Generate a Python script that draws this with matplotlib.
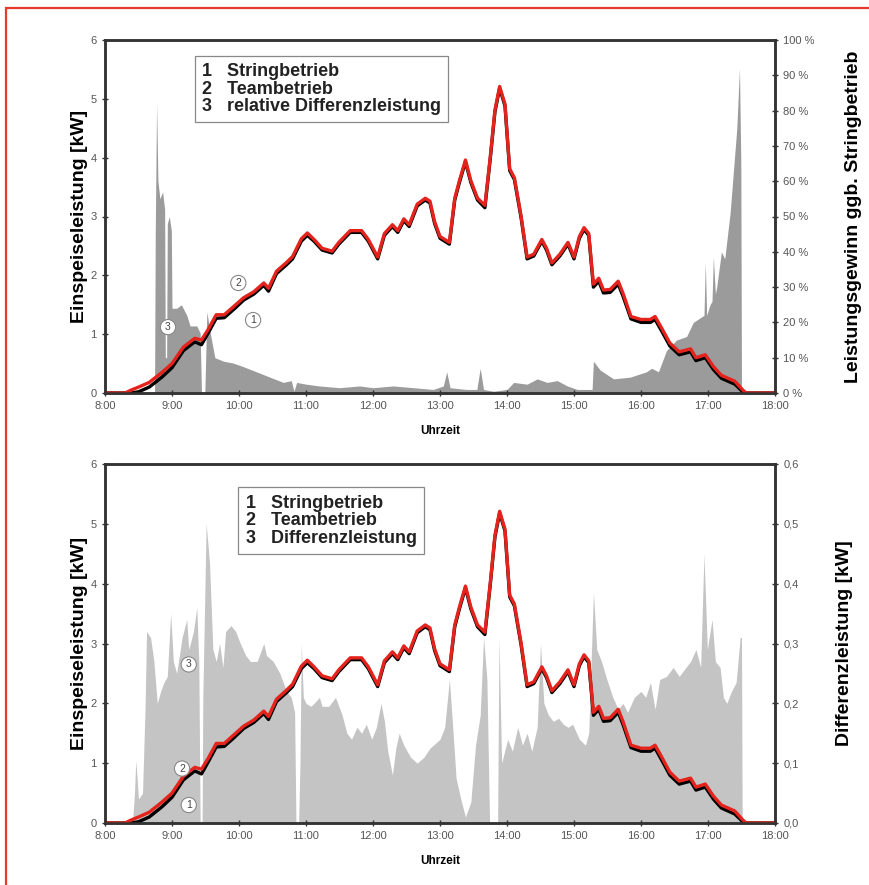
import matplotlib
matplotlib.use('Agg')
import matplotlib.pyplot as plt
from matplotlib.patches import Rectangle

# time of day in hours
t_power = [8.00, 8.30, 8.39, 8.50, 8.66, 8.85, 9.00, 9.17, 9.34, 9.44, 9.54, 9.66, 9.78, 9.93,
           10.07, 10.22, 10.37, 10.44, 10.56, 10.71, 10.80, 10.93, 11.02, 11.12, 11.24, 11.39,
           11.49, 11.66, 11.83, 11.93, 12.07, 12.17, 12.29, 12.37, 12.46, 12.54, 12.66, 12.78,
           12.85, 12.92, 13.00, 13.14, 13.22, 13.29, 13.38, 13.46, 13.56, 13.67, 13.75, 13.82,
           13.89, 13.97, 14.04, 14.11, 14.21, 14.30, 14.40, 14.52, 14.59, 14.67, 14.79, 14.91,
           15.00, 15.08, 15.15, 15.22, 15.29, 15.37, 15.44, 15.54, 15.66, 15.73, 15.85, 16.00,
           16.14, 16.21, 16.31, 16.43, 16.57, 16.74, 16.82, 16.96, 17.08, 17.20, 17.40, 17.52,
           17.57, 18.00]
p_string = [0.0, 0.0, 0.0, 0.02, 0.10, 0.27, 0.43, 0.72, 0.87, 0.82, 1.02, 1.27, 1.28, 1.43,
            1.58, 1.68, 1.83, 1.73, 2.03, 2.18, 2.28, 2.58, 2.68, 2.58, 2.43, 2.38,
            2.53, 2.73, 2.73, 2.58, 2.28, 2.68, 2.83, 2.73, 2.93, 2.83, 3.18, 3.28,
            3.23, 2.88, 2.63, 2.53, 3.28, 3.58, 3.93, 3.58, 3.28, 3.15, 3.98, 4.78,
            5.18, 4.88, 3.78, 3.63, 2.98, 2.28, 2.33, 2.58, 2.43, 2.18, 2.33, 2.53,
            2.28, 2.63, 2.78, 2.68, 1.80, 1.90, 1.70, 1.71, 1.85, 1.65, 1.26, 1.20,
            1.20, 1.25, 1.05, 0.80, 0.65, 0.70, 0.55, 0.60, 0.40, 0.25, 0.15, 0.02,
            0.0, 0.0]
p_team = [0.0, 0.0, 0.05, 0.10, 0.18, 0.35, 0.50, 0.78, 0.93, 0.90, 1.08, 1.33, 1.33, 1.48,
          1.62, 1.72, 1.87, 1.78, 2.07, 2.22, 2.32, 2.62, 2.72, 2.61, 2.46, 2.41,
          2.56, 2.76, 2.76, 2.61, 2.31, 2.71, 2.86, 2.76, 2.96, 2.86, 3.21, 3.31,
          3.26, 2.91, 2.66, 2.56, 3.31, 3.61, 3.96, 3.61, 3.31, 3.19, 4.01, 4.81,
          5.21, 4.91, 3.81, 3.66, 3.01, 2.31, 2.36, 2.61, 2.46, 2.21, 2.36, 2.56,
          2.31, 2.66, 2.81, 2.71, 1.85, 1.95, 1.75, 1.76, 1.90, 1.70, 1.30, 1.25,
          1.25, 1.30, 1.10, 0.85, 0.70, 0.75, 0.60, 0.65, 0.45, 0.30, 0.20, 0.05,
          0.0, 0.0]

# relative difference power (% gain vs. string operation)
t_rel = [8.74, 8.75, 8.77, 8.79, 8.82, 8.86, 8.89, 8.90, 8.92, 8.93, 8.96, 8.99, 9.00, 9.07,
         9.14, 9.22, 9.27, 9.37, 9.42, 9.44, 9.49, 9.52, 9.57, 9.64, 9.77, 9.91, 10.06, 10.26,
         10.46, 10.66, 10.78, 10.82, 10.86, 11.00, 11.20, 11.50, 11.80, 12.00, 12.30, 12.60,
         12.90, 13.05, 13.10, 13.15, 13.40, 13.55, 13.60, 13.65, 13.80, 14.00, 14.10, 14.30,
         14.45, 14.60, 14.75, 14.90, 15.05, 15.20, 15.27, 15.29, 15.39, 15.59, 15.84, 16.08,
         16.16, 16.26, 16.38, 16.53, 16.68, 16.78, 16.86, 16.94, 16.96, 16.98, 17.03, 17.06,
         17.08, 17.11, 17.13, 17.20, 17.25, 17.33, 17.38, 17.43, 17.47, 17.49, 17.50]
rel_gain = [0, 45, 82, 60, 55, 57, 52, 10, 10, 48, 50, 46, 24, 24,
            25, 22, 19, 19, 17, 0, 0, 23, 17, 10, 9, 8.5, 7.5, 6,
            4.5, 3, 3.5, 0.5, 3, 2.5, 2, 1.5, 2, 1.5, 2, 1.5,
            1, 2, 6, 1.5, 1, 1, 7, 1, 0.5, 1, 3, 2.5,
            4, 3, 3.5, 2, 1, 1, 1, 9, 6.5, 4, 4.5, 6,
            7, 6, 12, 15, 16, 20, 21, 22, 37, 22, 25, 26,
            38.5, 28, 30, 40, 38, 51, 63, 75, 92, 65, 0]

# absolute difference power in kW
t_diff = [8.41, 8.44, 8.46, 8.50, 8.56, 8.60, 8.62, 8.68, 8.73, 8.78, 8.83, 8.88, 8.93, 8.98,
          9.02, 9.07, 9.15, 9.22, 9.25, 9.32, 9.37, 9.40, 9.42, 9.45, 9.46, 9.51, 9.56, 9.61,
          9.66, 9.71, 9.76, 9.80, 9.88, 9.95, 10.02, 10.10, 10.17, 10.27, 10.37, 10.41, 10.51,
          10.61, 10.71, 10.78, 10.83, 10.85, 10.89, 10.91, 10.93, 10.96, 11.00, 11.07, 11.12,
          11.20, 11.24, 11.34, 11.44, 11.54, 11.61, 11.68, 11.76, 11.83, 11.90, 11.98, 12.05,
          12.12, 12.17, 12.22, 12.29, 12.34, 12.39, 12.46, 12.56, 12.66, 12.76, 12.85, 12.95,
          13.00, 13.07, 13.14, 13.19, 13.24, 13.31, 13.38, 13.46, 13.53, 13.60, 13.65, 13.70,
          13.74, 13.86, 13.88, 13.92, 14.01, 14.08, 14.16, 14.23, 14.30, 14.37, 14.45, 14.50,
          14.55, 14.62, 14.69, 14.77, 14.84, 14.91, 14.98, 15.08, 15.17, 15.22, 15.29, 15.34,
          15.41, 15.49, 15.58, 15.66, 15.73, 15.80, 15.90, 16.00, 16.07, 16.14, 16.21, 16.28,
          16.38, 16.48, 16.57, 16.67, 16.74, 16.82, 16.89, 16.94, 16.99, 17.06, 17.11, 17.18,
          17.23, 17.28, 17.35, 17.42, 17.48, 17.50, 17.51]
p_diff = [0.0, 0.05, 0.105, 0.04, 0.05, 0.20, 0.32, 0.31, 0.27, 0.20, 0.22, 0.235, 0.245, 0.35,
          0.27, 0.25, 0.31, 0.34, 0.29, 0.32, 0.36, 0.27, 0.0, 0.0, 0.21, 0.50, 0.435, 0.29,
          0.27, 0.30, 0.26, 0.32, 0.33, 0.32, 0.30, 0.28, 0.27, 0.27, 0.30, 0.28, 0.27,
          0.25, 0.22, 0.21, 0.185, 0.0, 0.0, 0.10, 0.30, 0.21, 0.20, 0.195, 0.20,
          0.21, 0.195, 0.195, 0.21, 0.18, 0.15, 0.14, 0.16, 0.15, 0.165, 0.14, 0.16,
          0.20, 0.17, 0.12, 0.08, 0.125, 0.15, 0.13, 0.11, 0.10, 0.11, 0.125, 0.135,
          0.14, 0.16, 0.24, 0.16, 0.075, 0.04, 0.01, 0.035, 0.13, 0.18, 0.31, 0.24,
          0.0, 0.0, 0.31, 0.10, 0.14, 0.12, 0.16, 0.13, 0.15, 0.12, 0.16, 0.30,
          0.20, 0.18, 0.17, 0.175, 0.165, 0.16, 0.165, 0.14, 0.13, 0.15, 0.385, 0.29,
          0.27, 0.24, 0.21, 0.19, 0.20, 0.185, 0.21, 0.22, 0.21, 0.235, 0.19, 0.24,
          0.245, 0.26, 0.245, 0.26, 0.27, 0.29, 0.26, 0.45, 0.29, 0.34, 0.27, 0.26,
          0.21, 0.20, 0.22, 0.235, 0.31, 0.31, 0.0]

hours = list(range(8, 19))
hour_labels = ['%d:00' % h for h in hours]
kw_ticks = [0, 1, 2, 3, 4, 5, 6]
pct_ticks = [0, 10, 20, 30, 40, 50, 60, 70, 80, 90, 100]
pct_labels = ['%d %%' % p for p in pct_ticks]
diff_ticks = [0.0, 0.1, 0.2, 0.3, 0.4, 0.5, 0.6]
diff_labels = ['0,0', '0,1', '0,2', '0,3', '0,4', '0,5', '0,6']

legend_top = '1   Stringbetrieb\n2   Teambetrieb\n3   relative Differenzleistung'
legend_bottom = '1   Stringbetrieb\n2   Teambetrieb\n3   Differenzleistung'

RED = '#e3231c'
TICK_CLR = '#555555'

plt.rcParams['font.family'] = ['Liberation Sans', 'DejaVu Sans']

fig = plt.figure(figsize=(8.69, 8.85), dpi=100)


def style_axes(ax, ax2):
    for a in (ax, ax2):
        for s in a.spines.values():
            s.set_linewidth(1.8)
            s.set_color('#333333')
        a.tick_params(direction='inout', length=5, width=1, labelsize=8,
                      labelcolor=TICK_CLR, color='#333333')
    ax.set_xlim(8, 18)
    ax.set_ylim(0, 6)
    ax.set_xticks(hours)
    ax.set_xticklabels(hour_labels)
    ax.set_yticks(kw_ticks)
    ax.set_ylabel('Einspeiseleistung [kW]', fontsize=14, fontweight='bold', labelpad=2)
    ax.set_xlabel('Uhrzeit', fontsize=8.5, fontweight='bold', labelpad=10)
    ax.set_zorder(ax2.get_zorder() + 1)
    ax.patch.set_visible(False)


def circle(ax, x, y, s):
    ax.text(x, y, s, ha='center', va='center', fontsize=7.5, color='#444444',
            bbox=dict(boxstyle='circle,pad=0.25', fc='white', ec='#888888', lw=0.8))


# top chart: relative gain
ax = fig.add_axes([105 / 869, 1 - 393 / 885, 670 / 869, 353 / 885])
ax2 = ax.twinx()
ax2.fill_between(t_rel, rel_gain, color='#9b9b9b', lw=0)
ax2.set_ylim(0, 100)
ax2.set_yticks(pct_ticks)
ax2.set_yticklabels(pct_labels)
ax2.set_ylabel('Leistungsgewinn ggb. Stringbetrieb', fontsize=14, fontweight='bold',
               labelpad=22)
style_axes(ax, ax2)
ax.plot(t_power, p_string, color='black', lw=2.4)
ax.plot(t_power, p_team, color=RED, lw=2.4)
ax.text(0.145, 0.935, legend_top, transform=ax.transAxes, va='top', ha='left',
        fontsize=13, fontweight='bold', linespacing=1.05, color='#222222',
        bbox=dict(boxstyle='square,pad=0.4', fc='white', ec='#888888', lw=0.9))
circle(ax, 9.99, 1.87, '2')
circle(ax, 10.21, 1.24, '1')
circle(ax, 8.94, 1.12, '3')

# bottom chart: absolute difference
bx = fig.add_axes([105 / 869, 1 - 823 / 885, 670 / 869, 359 / 885])
bx2 = bx.twinx()
bx2.fill_between(t_diff, p_diff, color='#c4c4c4', lw=0)
bx2.set_ylim(0, 0.6)
bx2.set_yticks(diff_ticks)
bx2.set_yticklabels(diff_labels)
bx2.set_ylabel('Differenzleistung [kW]', fontsize=14, fontweight='bold', labelpad=27)
style_axes(bx, bx2)
bx.plot(t_power, p_string, color='black', lw=2.4)
bx.plot(t_power, p_team, color=RED, lw=2.4)
bx.text(0.21, 0.915, legend_bottom, transform=bx.transAxes, va='top', ha='left',
        fontsize=13, fontweight='bold', linespacing=1.05, color='#222222',
        bbox=dict(boxstyle='square,pad=0.4', fc='white', ec='#888888', lw=0.9))
circle(bx, 9.25, 2.65, '3')
circle(bx, 9.15, 0.91, '2')
circle(bx, 9.25, 0.30, '1')

# red page frame
fig.patches.append(Rectangle((6 / 869, -0.02), 1.05, 1 - 8 / 885 + 0.02,
                             transform=fig.transFigure, fill=False, ec='#e8392e', lw=1.6))

fig.savefig('out.png', dpi=100)
